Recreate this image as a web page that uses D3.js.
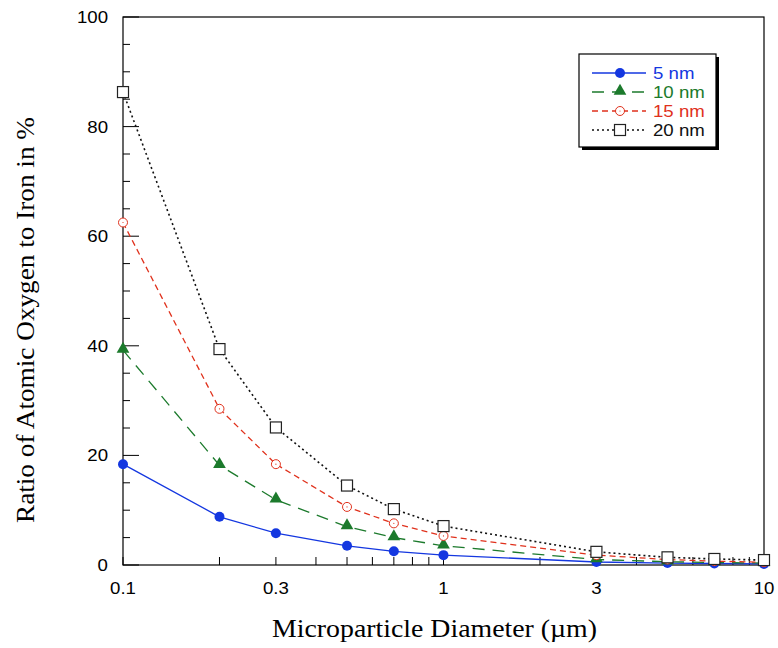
<!DOCTYPE html>
<html><head><meta charset="utf-8">
<script src="https://cdn.jsdelivr.net/npm/d3@7"></script>
<style>body{margin:0;background:#fff;}</style>
</head><body>
<svg id="chart" width="778" height="648"></svg>
<script>
const diameters = [0.1, 0.2, 0.3, 0.5, 0.7, 1, 3, 5, 7, 10];
const nm5  = [18.4, 8.8, 5.8, 3.5, 2.5, 1.8, 0.55, 0.35, 0.27, 0.2];
const nm10 = [39.2, 18.2, 11.9, 7.0, 5.0, 3.5, 1.0, 0.6, 0.45, 0.35];
const nm15 = [62.5, 28.5, 18.4, 10.6, 7.6, 5.3, 1.8, 1.0, 0.7, 0.5];
const nm20 = [86.3, 39.4, 25.1, 14.5, 10.2, 7.1, 2.4, 1.4, 1.1, 0.9];
const seriesNames = ["5 nm", "10 nm", "15 nm", "20 nm"];
const xTickLabels = [0.1, 0.3, 1, 3, 10];
const yTickLabels = [0, 20, 40, 60, 80, 100];

const series = [
  {name: seriesNames[0], values: nm5,  color: "#1437e0", dash: null,  marker: "dot"},
  {name: seriesNames[1], values: nm10, color: "#1c7a2c", dash: "12,8", marker: "tri"},
  {name: seriesNames[2], values: nm15, color: "#e0311c", dash: "6,4", marker: "ocircle"},
  {name: seriesNames[3], values: nm20, color: "#111111", dash: "2,3", marker: "square"}
];

const L = 123, R = 764, T = 17, B = 565;
const SX = 1.13;
const SANS = "Liberation Sans, Arial, sans-serif";
const svg = d3.select("#chart");
const x = d3.scaleLog().domain([0.1, 10]).range([L, R]);
const y = d3.scaleLinear().domain([0, 100]).range([B, T]);

function sText(parent, px, py, str, anchor, size, color) {
  parent.append("g").attr("transform", `translate(${px},${py}) scale(${SX},1)`)
    .append("text").attr("text-anchor", anchor)
    .attr("font-family", SANS).attr("font-size", size)
    .attr("fill", color || "#000").text(str);
}

// frame
svg.append("rect").attr("x", L).attr("y", T).attr("width", R - L).attr("height", B - T)
  .attr("fill", "none").attr("stroke", "#000").attr("stroke-width", 1.2);

// y axis ticks (inside)
const yMinor = d3.range(0, 101, 5);
svg.append("g").selectAll("line").data(yMinor).join("line")
  .attr("x1", L).attr("x2", d => L + (d % 20 === 0 ? 16 : 7))
  .attr("y1", d => y(d)).attr("y2", d => y(d))
  .attr("stroke", "#000").attr("stroke-width", 1);
const yl = svg.append("g");
yTickLabels.forEach(d => sText(yl, 108, y(d) + 6, d, "end", 16.5));

// x axis ticks (inside)
const xMinor = [];
[0.1, 1].forEach(dec => { for (let k = 1; k <= 9; k++) xMinor.push(dec * k); });
xMinor.push(10);
svg.append("g").selectAll("line").data(xMinor).join("line")
  .attr("x1", d => x(d)).attr("x2", d => x(d))
  .attr("y1", B).attr("y2", d => B - 8)
  .attr("stroke", "#000").attr("stroke-width", 1);
const xl = svg.append("g");
xTickLabels.forEach(d => sText(xl, x(d), 594, d, "middle", 16.5));

// titles
svg.append("text").attr("x", 272).attr("y", 637)
  .attr("font-family", "Liberation Serif, Times New Roman, serif").attr("font-size", 25)
  .attr("textLength", 325).attr("lengthAdjust", "spacingAndGlyphs")
  .text("Microparticle Diameter (\u00b5m)");
svg.append("text").attr("transform", "translate(34,523) rotate(-90)")
  .attr("font-family", "Liberation Serif, Times New Roman, serif").attr("font-size", 26)
  .attr("textLength", 406).attr("lengthAdjust", "spacingAndGlyphs")
  .text("Ratio of Atomic Oxygen to Iron in %");

const line = d3.line().x(d => x(d[0])).y(d => y(d[1]));

function drawMarker(g, type, color) {
  if (type === "dot") {
    g.append("circle").attr("r", 5).attr("fill", color);
  } else if (type === "tri") {
    g.append("path").attr("d", d3.symbol(d3.symbolTriangle, 70)()).attr("fill", color)
      .attr("transform", "translate(0,-1)");
  } else if (type === "ocircle") {
    g.append("circle").attr("r", 4.5).attr("fill", "#fff").attr("stroke", color).attr("stroke-width", 1);
    g.append("circle").attr("r", 0.6).attr("fill", color);
  } else if (type === "square") {
    g.append("rect").attr("x", -5.5).attr("y", -5.5).attr("width", 11).attr("height", 11)
      .attr("fill", "#fff").attr("stroke", "#222").attr("stroke-width", 1.2);
  }
}

series.forEach(s => {
  const pts = diameters.map((d, i) => [d, s.values[i]]);
  svg.append("path").attr("d", line(pts)).attr("fill", "none")
    .attr("stroke", s.color).attr("stroke-width", s.marker === "square" ? 1.6 : 1.3)
    .attr("stroke-dasharray", s.dash);
  const g = svg.append("g");
  pts.forEach(p => {
    const mg = g.append("g").attr("transform", `translate(${x(p[0])},${y(p[1])})`);
    drawMarker(mg, s.marker, s.color);
  });
});

// legend
const lg = svg.append("g");
lg.append("rect").attr("x", 582).attr("y", 57).attr("width", 137).attr("height", 93).attr("fill", "#000");
lg.append("rect").attr("x", 579).attr("y", 54).attr("width", 137).attr("height", 93)
  .attr("fill", "#fff").attr("stroke", "#000").attr("stroke-width", 1.2);
const rowY = [73, 92, 111, 130];
series.forEach((s, i) => {
  lg.append("line").attr("x1", 592).attr("x2", 646).attr("y1", rowY[i]).attr("y2", rowY[i])
    .attr("stroke", s.color).attr("stroke-width", s.marker === "square" ? 1.6 : 1.3)
    .attr("stroke-dasharray", s.dash);
  const mg = lg.append("g").attr("transform", `translate(620,${rowY[i]})`);
  drawMarker(mg, s.marker, s.color);
  sText(lg, 653, rowY[i] + 6, s.name, "start", 16.5, s.color);
});
</script>
</body></html>
